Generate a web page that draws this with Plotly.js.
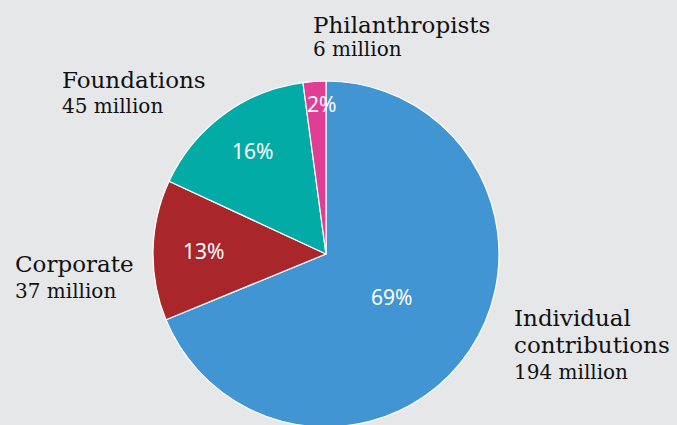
<!DOCTYPE html>
<html>
<head>
<meta charset="utf-8">
<script src="https://cdn.plot.ly/plotly-3.0.1.min.js"></script>
<style>
html,body{margin:0;padding:0;overflow:hidden;background:#e6e7e9;}
#chart{width:677px;height:430px;}
</style>
</head>
<body>
<div id="chart"></div>
<script>
// Data
var categories = ["Individual contributions", "Corporate", "Foundations", "Philanthropists"];
var nameLines = [["Individual", "contributions"], ["Corporate"], ["Foundations"], ["Philanthropists"]];
var values = [194, 37, 45, 6]; // millions
var valueLabels = ["194 million", "37 million", "45 million", "6 million"];
var colors = ["#4195d3", "#a9272a", "#03aba7", "#e03e95"];

// Layout geometry (pixels)
var W = 677, H = 430;
var M = {l: 153, r: 178, t: 81, b: 3};
var pw = W - M.l - M.r, ph = H - M.t - M.b;
function px(x) { return (x - M.l) / pw; }
function py(y) { return 1 - (y - M.t) / ph; }

var serif = "DejaVu Serif, serif";
var sans = "Noto Sans, Open Sans, sans-serif";

var annotations = [];

// Percentage labels placed at slice mid-angles computed from values
var total = values.reduce(function(a, b) { return a + b; }, 0);
var radFrac = [0.45, 0.71, 0.74, 0.87];
var pctShift = [1, 0, 2, 6];
var cx = M.l + pw / 2, cy = M.t + ph / 2, R = Math.min(pw, ph) / 2;
var cum = 0;
for (var i = 0; i < values.length; i++) {
  var mid = (cum + values[i] / 2) / total * 2 * Math.PI;
  cum += values[i];
  var x = cx + Math.sin(mid) * R * radFrac[i];
  var y = cy - Math.cos(mid) * R * radFrac[i];
  annotations.push({
    xref: "paper", yref: "paper", x: px(x), y: py(y),
    xanchor: "center", yanchor: "middle", showarrow: false,
    xshift: pctShift[i],
    text: Math.round(values[i] / total * 100) + "%",
    font: {family: sans, size: 21, color: "#ffffff"}
  });
}

// Outside category labels: left x, baselines of name lines, baseline of value line
var labelPos = [
  {x: 514, name: [325, 352], val: 379},
  {x: 15, name: [271], val: 298},
  {x: 62, name: [87], val: 113},
  {x: 313, name: [32], val: 56}
];
for (var k = 0; k < categories.length; k++) {
  var p = labelPos[k];
  for (var j = 0; j < nameLines[k].length; j++) {
    annotations.push({
      xref: "paper", yref: "paper", x: px(p.x), y: py(p.name[j] + 8),
      xanchor: "left", yanchor: "bottom", showarrow: false,
      xshift: -2,
      text: nameLines[k][j],
      font: {family: serif, size: 23, color: "#111111"}
    });
  }
  annotations.push({
    xref: "paper", yref: "paper", x: px(p.x), y: py(p.val + 7),
    xanchor: "left", yanchor: "bottom", showarrow: false,
    xshift: -2,
    text: valueLabels[k],
    font: {family: serif, size: 20, color: "#111111"}
  });
}

var trace = {
  type: "pie",
  labels: categories,
  values: values,
  sort: false,
  direction: "clockwise",
  rotation: 0,
  hole: 0,
  textinfo: "none",
  hoverinfo: "label+value+percent",
  marker: {colors: colors, line: {color: "#ffffff", width: 1.2}},
  domain: {x: [0, 1], y: [0, 1]},
  showlegend: false
};

var layout = {
  width: W, height: H,
  margin: M,
  paper_bgcolor: "#e6e7e9",
  plot_bgcolor: "#e6e7e9",
  showlegend: false,
  annotations: annotations
};

Plotly.newPlot("chart", [trace], layout, {displayModeBar: false, staticPlot: true});
</script>
</body>
</html>
